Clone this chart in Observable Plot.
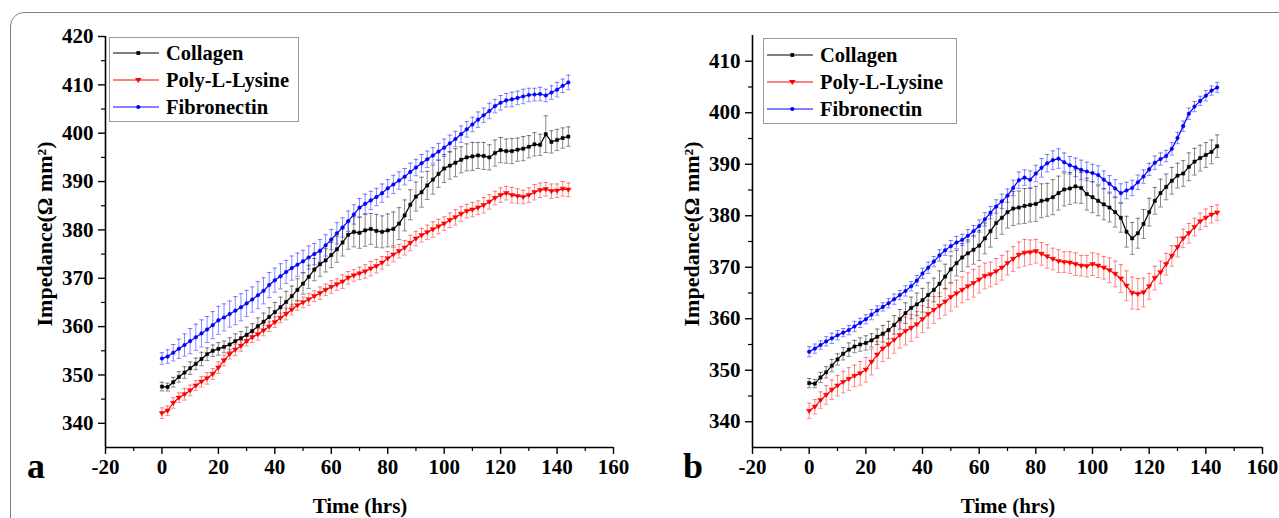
<!DOCTYPE html>
<html><head><meta charset="utf-8">
<script src="https://cdn.jsdelivr.net/npm/d3@7"></script>
<script src="https://cdn.jsdelivr.net/npm/@observablehq/plot@0.6"></script>
<style>
body{margin:0;background:#fff;}
#fig{position:relative;width:1279px;height:518px;overflow:hidden;font-family:"Liberation Serif","Times New Roman",serif;}
#frame{position:absolute;left:10px;top:12px;width:1320px;height:560px;border:1.5px solid #808080;border-radius:14px;}
.panel{position:absolute;top:0;}
.letter{position:absolute;font-weight:bold;font-size:36px;line-height:1;}
.legend{position:absolute;border:1px solid #9a9a9a;background:#fff;}
.legend .row{position:absolute;left:0;height:26px;display:flex;align-items:center;font-weight:bold;font-size:20.5px;white-space:nowrap;}
.xlab{position:absolute;font-weight:bold;font-size:21px;white-space:nowrap;transform:translateX(-50%);}
.ylab{position:absolute;font-weight:bold;font-size:22px;white-space:nowrap;transform:translate(-50%,-50%) rotate(-90deg);}
</style></head><body><div id="fig"><div id="frame"></div></div>
<script>
// ---------- data ----------
const series = ["Collagen", "Poly-L-Lysine", "Fibronectin"];
const seriesColors = ["#000000", "#ff0000", "#0000ff"];
const hours = [0,2,4,6,8,10,12,14,16,18,20,22,24,26,28,30,32,34,36,38,40,42,44,46,48,50,52,54,56,58,60,62,64,66,68,70,72,74,76,78,80,82,84,86,88,90,92,94,96,98,100,102,104,106,108,110,112,114,116,118,120,122,124,126,128,130,132,134,136,138,140,142,144];
const xMajorTicks = [-20,0,20,40,60,80,100,120,140,160];
const xMinorTicks = [-10,10,30,50,70,90,110,130,150];
const aYMajorTicks = [340,350,360,370,380,390,400,410,420];
const aYMinorTicks = [345,355,365,375,385,395,405,415];
const bYMajorTicks = [340,350,360,370,380,390,400,410];
const bYMinorTicks = [345,355,365,375,385,395,405];
const aYDomain = [335, 420];
const bYDomain = [335, 415];
const xDomain = [-20, 160];
const xLabel = "Time (hrs)";
const yLabel = "Impedance(\u03A9 mm\u00B2)";

// panel a
const aCollagen = [
347.6,347.5,348.5,349.6,350.5,351.4,352.3,353.3,354.3,355.0,
355.4,355.8,356.3,357.0,357.6,358.3,359.1,360.1,361.0,362.0,
363.0,364.0,365.1,366.3,367.6,368.9,370.3,371.8,372.9,373.7,
374.8,376.0,377.4,379.0,379.6,379.4,379.9,380.2,379.8,379.6,
379.9,380.2,381.3,383.0,385.2,386.9,387.8,389.2,390.4,391.6,
392.7,393.3,393.9,394.5,395.0,395.2,395.4,395.3,395.0,395.9,
396.5,396.3,396.3,396.6,396.8,397.2,397.7,397.6,399.8,398.2,
398.6,399.0,399.3];
const aPLL = [
342.1,342.6,344.2,345.3,346.0,346.8,347.8,348.6,349.3,350.2,
351.5,353.0,354.3,355.2,356.0,357.0,357.8,358.4,359.2,360.0,
360.9,361.8,362.6,363.5,364.4,365.0,365.6,366.3,366.9,367.6,
368.2,368.7,369.3,370.1,370.6,371.0,371.4,372.0,372.5,373.2,
374.1,374.9,375.6,376.3,377.3,378.2,378.9,379.5,380.1,380.7,
381.3,382.0,382.6,383.3,383.9,384.2,384.6,385.1,385.8,386.6,
387.2,387.6,387.2,387.0,386.8,387.2,387.8,388.2,388.4,388.0,
388.1,388.5,388.3];
const aFibronectin = [
353.4,353.8,354.6,355.4,356.2,357.0,357.8,358.6,359.4,360.3,
361.3,361.9,362.6,363.3,364.0,364.8,365.6,366.5,367.4,368.6,
369.6,370.4,371.3,372.1,372.8,373.5,374.3,375.0,375.7,376.8,
378.0,379.3,380.5,381.8,383.2,384.6,385.4,386.1,386.8,387.6,
388.6,389.4,390.2,391.0,392.0,392.9,393.8,394.6,395.4,396.2,
397.0,397.9,398.8,399.8,400.8,401.8,402.8,403.7,404.6,405.6,
406.3,406.8,407.0,407.3,407.6,407.9,408.0,408.1,407.8,408.4,
409.0,409.8,410.5];
const aCollagenErr = [
0.9,0.8,1.0,1.1,1.2,1.3,1.2,1.4,1.3,1.2,
1.3,1.2,1.4,1.5,1.4,1.6,1.5,1.7,1.8,1.9,
2.0,2.1,2.2,2.1,2.3,2.2,2.4,2.3,2.5,2.4,
2.6,2.7,2.8,3.0,3.1,3.2,3.3,3.2,3.4,3.3,
3.4,3.5,3.3,3.2,3.1,3.0,3.1,2.9,3.0,2.8,
2.9,2.8,2.9,2.7,2.8,2.9,2.7,2.8,2.6,2.7,
2.6,2.5,2.6,2.4,2.5,2.3,2.4,2.2,3.8,2.3,
2.2,2.1,2.0];
const aPLLErr = [
1.1,1.0,1.1,1.0,1.2,1.1,1.0,1.1,1.2,1.1,
1.2,1.1,1.0,1.2,1.1,1.0,1.1,1.2,1.1,1.0,
1.1,1.0,1.2,1.1,1.0,1.1,1.2,1.1,1.3,1.2,
1.3,1.2,1.4,1.3,1.2,1.3,1.4,1.5,1.4,1.3,
1.4,1.5,1.4,1.5,1.6,1.5,1.4,1.5,1.6,1.5,
1.4,1.5,1.6,1.5,1.4,1.5,1.4,1.6,1.5,1.4,
1.5,1.4,1.6,1.5,1.4,1.5,1.6,1.5,1.4,1.5,
1.4,1.5,1.4];
const aFibronectinErr = [
1.2,1.4,1.7,2.0,2.3,2.6,2.7,2.8,2.7,2.8,
2.9,2.8,2.7,2.9,2.8,2.7,2.6,2.8,2.7,2.6,
2.5,2.6,2.4,2.5,2.4,2.3,2.4,2.2,2.3,2.2,
2.1,2.2,2.0,2.1,2.0,1.9,2.0,1.9,1.8,1.9,
1.8,1.9,1.8,1.7,1.8,1.7,1.8,1.7,1.6,1.7,
1.8,1.7,1.6,1.7,1.6,1.5,1.6,1.5,1.6,1.4,
1.5,1.4,1.5,1.4,1.5,1.4,1.3,1.4,1.3,1.4,
1.5,1.4,1.5];

// panel b
const bCollagen = [
347.5,347.4,348.6,349.6,350.9,352.1,353.2,354.0,354.6,355.0,
355.3,355.8,356.5,357.1,357.8,358.8,359.9,361.1,362.1,362.8,
363.6,364.6,365.6,366.8,368.2,369.6,370.8,371.9,372.7,373.4,
374.2,375.6,377.0,378.6,379.6,380.7,381.4,381.6,381.9,382.1,
382.3,382.9,383.1,383.6,384.4,385.1,385.3,385.7,385.4,384.2,
383.6,382.9,382.2,381.6,380.7,379.6,376.9,375.6,376.6,378.4,
380.7,382.9,384.4,385.6,386.8,387.8,388.2,389.5,390.5,391.2,
391.8,392.4,393.5];
const bPLL = [
342.1,342.9,344.2,345.2,346.2,347.0,347.7,348.3,348.9,349.4,
350.1,351.6,353.0,354.2,355.0,355.9,356.8,357.6,358.2,358.9,
359.9,360.9,361.7,362.5,363.3,364.2,364.9,365.6,366.3,366.9,
367.6,368.3,368.6,369.2,369.9,370.8,371.6,372.4,372.8,372.9,
373.1,372.6,372.1,371.6,371.2,371.0,370.9,370.6,370.3,370.2,
370.6,370.3,369.9,369.4,368.7,367.8,366.4,365.0,364.8,365.1,
366.3,367.9,369.0,370.6,372.2,373.9,375.6,376.6,377.8,378.9,
379.6,380.2,380.6];
const bFibronectin = [
353.6,354.2,354.9,355.6,356.2,356.8,357.3,357.8,358.5,359.2,
359.9,360.8,361.6,362.3,363.0,363.8,364.6,365.4,366.3,367.4,
368.8,369.9,371.1,372.3,373.3,374.1,374.8,375.3,376.1,377.0,
378.0,379.3,380.6,381.8,382.8,383.9,385.4,386.9,387.4,387.0,
388.2,389.3,390.2,390.8,391.1,390.4,389.8,389.4,388.9,388.6,
388.3,387.9,387.0,386.2,385.3,384.4,384.9,385.4,386.5,387.6,
389.0,390.3,391.0,391.6,393.0,395.1,397.4,399.8,401.2,402.3,
403.3,404.3,404.9];
const bCollagenErr = [
0.9,0.8,1.0,1.1,1.2,1.1,1.2,1.3,1.2,1.3,
1.4,1.3,1.5,1.6,1.7,1.8,1.9,2.0,2.1,2.2,
2.3,2.4,2.3,2.5,2.4,2.6,2.5,2.7,2.6,2.8,
2.9,3.0,3.1,3.0,3.2,3.1,3.3,3.2,3.4,3.3,
3.4,3.3,3.2,3.4,3.3,3.2,3.1,3.2,3.0,3.1,
3.0,2.9,3.0,2.8,2.9,2.8,3.0,3.1,2.9,2.8,
2.7,2.6,2.7,2.5,2.6,2.4,2.5,2.7,2.6,2.5,
2.4,2.3,2.2];
const bPLLErr = [
1.5,1.4,1.6,1.8,1.9,2.0,2.1,2.2,2.1,2.3,
2.4,2.5,2.6,2.5,2.7,2.6,2.5,2.7,2.6,2.5,
2.6,2.7,2.6,2.5,2.6,2.7,2.6,2.5,2.6,2.7,
2.6,2.5,2.4,2.5,2.4,2.3,2.4,2.5,2.6,2.4,
2.3,2.2,2.3,2.1,2.2,2.0,2.1,2.2,2.0,2.1,
2.2,2.3,2.2,2.4,2.5,2.7,2.9,3.1,3.0,2.8,
2.5,2.3,2.2,2.1,2.0,1.9,1.8,1.9,1.7,1.6,
1.7,1.6,1.5];
const bFibronectinErr = [
1.0,0.9,0.8,0.9,1.0,0.9,0.8,0.9,1.0,0.9,
0.9,1.0,0.9,0.8,0.9,1.0,0.9,1.0,0.9,1.0,
1.0,1.1,1.0,1.1,1.0,1.1,1.2,1.1,1.2,1.1,
1.2,1.3,1.2,1.3,1.4,1.3,1.5,1.6,1.5,1.7,
1.6,1.8,1.7,1.8,1.9,1.8,1.7,1.8,1.9,1.8,
1.7,1.8,1.7,1.6,1.7,1.8,1.6,1.5,1.4,1.3,
1.2,1.3,1.2,1.1,1.2,1.1,1.0,1.1,1.0,0.9,
1.0,0.9,1.0];

// ---------- helpers ----------
function rowsFor(valueArrays, errArrays) {
  const rows = [];
  series.forEach((s, k) => {
    hours.forEach((t, i) => rows.push({s, t, v: valueArrays[k][i], e: errArrays[k][i]}));
  });
  return rows;
}
const downTriangle = {
  draw(context, size) {
    const r = Math.sqrt(size / 1.3);
    context.moveTo(-r, -r * 0.6);
    context.lineTo(r, -r * 0.6);
    context.lineTo(0, r * 0.9);
    context.closePath();
  }
};
const symbolRange = [d3.symbolSquare, downTriangle, d3.symbolCircle];

function makePanel(cfg) {
  const rows = rowsFor(cfg.values, cfg.errs);
  const cap = 0.8;
  const tickFont = {fontSize: 21, fontWeight: "bold"};
  const eb = {stroke: "s", strokeWidth: 0.7, strokeOpacity: 0.68};
  return Plot.plot({
    width: cfg.width, height: 518,
    marginLeft: cfg.ml, marginRight: cfg.mr, marginTop: cfg.mt, marginBottom: 71,
    style: {fontFamily: '"Liberation Serif", "Times New Roman", serif', fontWeight: "bold", fontSize: "21px", color: "#000", background: "transparent", overflow: "visible"},
    x: {domain: xDomain},
    y: {domain: cfg.yDomain},
    color: {domain: series, range: seriesColors},
    symbol: {domain: series, range: symbolRange},
    marks: [
      // error bars
      Plot.ruleX(rows, {x: "t", y1: d => d.v - d.e, y2: d => d.v + d.e, ...eb}),
      Plot.link(rows, {x1: d => d.t - cap, x2: d => d.t + cap, y1: d => d.v + d.e, y2: d => d.v + d.e, ...eb}),
      Plot.link(rows, {x1: d => d.t - cap, x2: d => d.t + cap, y1: d => d.v - d.e, y2: d => d.v - d.e, ...eb}),
      // lines + markers
      Plot.line(rows, {x: "t", y: "v", z: "s", stroke: "s", strokeWidth: 1.2}),
      Plot.dot(rows, {x: "t", y: "v", symbol: "s", fill: "s", stroke: "s", strokeWidth: 0.5, r: 1.8}),
      // axes
      Plot.axisX({ticks: xMajorTicks, tickSize: 7, tickPadding: 5, tickFormat: d => String(d), label: null, strokeWidth: 1.4, ...tickFont}),
      Plot.axisX({ticks: xMinorTicks, tickSize: 4, tickFormat: () => "", label: null, strokeWidth: 1.2}),
      Plot.axisY({ticks: cfg.yMajor, tickSize: 7, tickPadding: 5, tickFormat: d => String(d), label: null, strokeWidth: 1.4, ...tickFont}),
      Plot.axisY({ticks: cfg.yMinor, tickSize: 4, tickFormat: () => "", label: null, strokeWidth: 1.2}),
      Plot.ruleY([cfg.yDomain[0]], {stroke: "#000", strokeWidth: 1.6}),
      Plot.ruleX([xDomain[0]], {stroke: "#000", strokeWidth: 1.6})
    ]
  });
}

const fig = document.getElementById("fig");
function addPanel(cfg) {
  const wrap = document.createElement("div");
  wrap.className = "panel";
  wrap.style.left = cfg.left + "px";
  wrap.appendChild(makePanel(cfg));
  fig.appendChild(wrap);

  // legend
  const lg = document.createElement("div");
  lg.className = "legend";
  lg.style.left = cfg.legend.x + "px"; lg.style.top = cfg.legend.y + "px";
  lg.style.width = cfg.legend.w + "px"; lg.style.height = cfg.legend.h + "px";
  series.forEach((s, k) => {
    const row = document.createElement("div");
    row.className = "row";
    row.style.top = (cfg.legend.rowY[k] - 13) + "px";
    const sv = d3.create("svg").attr("width", cfg.legend.lineW + 6).attr("height", 26);
    sv.append("line").attr("x1", 3).attr("x2", 3 + cfg.legend.lineW).attr("y1", 13).attr("y2", 13)
      .attr("stroke", seriesColors[k]).attr("stroke-width", 1);
    sv.append("path").attr("transform", `translate(${3 + cfg.legend.lineW * 0.55},13)`)
      .attr("d", d3.symbol(symbolRange[k], 14)()).attr("fill", seriesColors[k]);
    row.appendChild(sv.node());
    const sp = document.createElement("span");
    sp.textContent = s; sp.style.marginLeft = "4px";
    row.appendChild(sp);
    lg.appendChild(row);
  });
  fig.appendChild(lg);

  const letter = document.createElement("div");
  letter.className = "letter"; letter.textContent = cfg.letter;
  letter.style.left = cfg.letterX + "px"; letter.style.top = "448px";
  fig.appendChild(letter);

  const xl = document.createElement("div");
  xl.className = "xlab"; xl.textContent = xLabel;
  xl.style.left = cfg.xLabelX + "px"; xl.style.top = "494px";
  fig.appendChild(xl);

  const yl = document.createElement("div");
  yl.className = "ylab"; yl.textContent = yLabel;
  yl.style.left = cfg.yLabelX + "px"; yl.style.top = "234px";
  fig.appendChild(yl);
}

addPanel({
  left: 0, width: 640, ml: 105, mr: 27, mt: 36, yDomain: aYDomain, yMajor: aYMajorTicks, yMinor: aYMinorTicks,
  values: [aCollagen, aPLL, aFibronectin], errs: [aCollagenErr, aPLLErr, aFibronectinErr],
  legend: {x: 109, y: 37, w: 188, h: 83, rowY: [15, 42, 69], lineW: 46},
  letter: "a", letterX: 27, xLabelX: 360, yLabelX: 45
});
addPanel({
  left: 640, width: 639, ml: 112, mr: 17, mt: 35, yDomain: bYDomain, yMajor: bYMajorTicks, yMinor: bYMinorTicks,
  values: [bCollagen, bPLL, bFibronectin], errs: [bCollagenErr, bPLLErr, bFibronectinErr],
  legend: {x: 763, y: 38, w: 192, h: 84, rowY: [16, 43, 70], lineW: 46},
  letter: "b", letterX: 683, xLabelX: 1008, yLabelX: 692
});
</script></body></html>
